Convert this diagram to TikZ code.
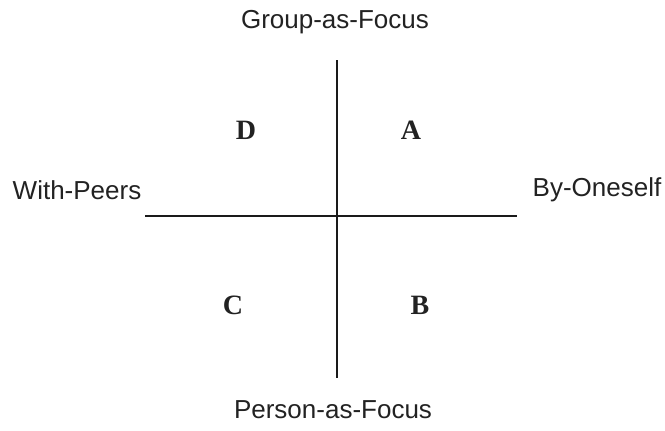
\documentclass[tikz,border=0pt]{standalone}
\usepackage{fontspec}
\setmainfont{Liberation Serif}
\newfontfamily\axisfont{Liberation Sans}
\usepackage{xcolor}
\definecolor{cLine}{HTML}{1A1A1A}
\definecolor{cText}{HTML}{222222}
\usetikzlibrary{positioning}
\tikzset{
  axis-label/.style={inner sep=0pt,text=cText,font=\axisfont\fontsize{13}{15}\selectfont},
  quad-label/.style={inner sep=0pt,text=cText,font=\bfseries\fontsize{14}{16}\selectfont},
  axis-line/.style={draw=cLine,line width=0.75pt},
}
\begin{document}
\begin{tikzpicture}[x=0.5pt,y=-0.5pt]
  \useasboundingbox (0,0) rectangle (665,430);
  % axis ends
  \coordinate (vtop) at (337,60);
  \coordinate (vbot) at (337,378);
  \coordinate (hleft) at (145,216);
  \coordinate (hright) at (517,216);

  \draw[axis-line] (vtop) -- (vbot);
  \draw[axis-line] (hleft) -- (hright);

  \node[axis-label] (group) at (335,22) {Group-as-Focus};
  \node[axis-label] (person) at (333,410) {Person-as-Focus};
  \node[axis-label] (peers) at (77,190) {With-Peers};
  \node[axis-label] (oneself) at (597,190) {By-Oneself};

  \node[quad-label] (qd) at (246,130) {D};
  \node[quad-label] (qa) at (411,130) {A};
  \node[quad-label] (qc) at (233,305) {C};
  \node[quad-label] (qb) at (420,305) {B};
\end{tikzpicture}
\end{document}
